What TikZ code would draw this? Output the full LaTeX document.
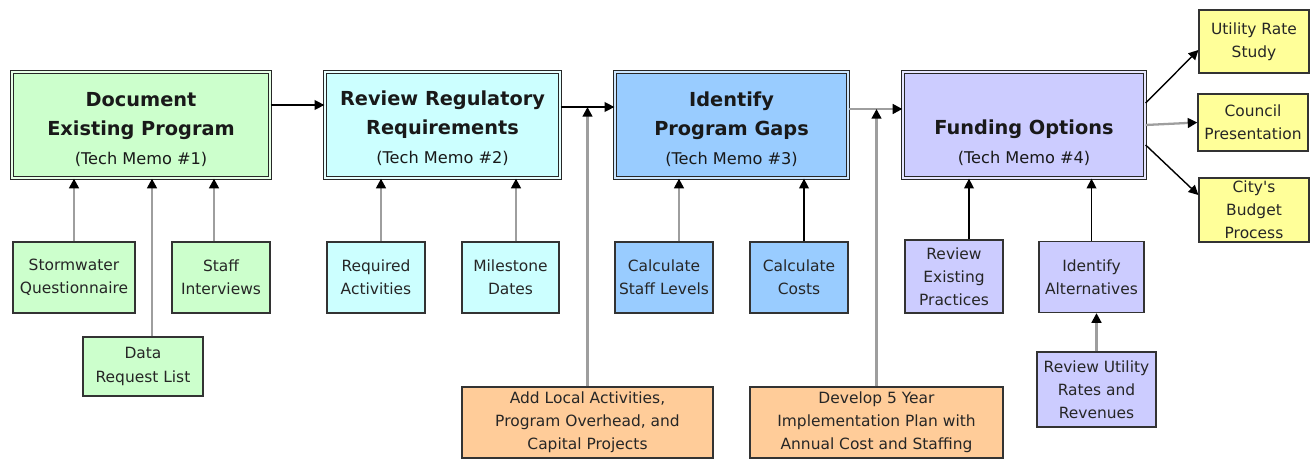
\documentclass[tikz,border=0pt]{standalone}
\usepackage{xcolor}
\usepackage{fontspec}
\setmainfont{DejaVu Sans}
\usepackage{tikz}
\usetikzlibrary{arrows.meta}

\definecolor{memogreen}{HTML}{CCFFCC}
\definecolor{memocyan}{HTML}{CCFFFF}
\definecolor{memoblue}{HTML}{99CCFF}
\definecolor{memolilac}{HTML}{CCCCFF}
\definecolor{steporange}{HTML}{FFCC99}
\definecolor{outyellow}{HTML}{FFFF99}

\newcommand{\memofont}{\fontsize{9.2}{12}\selectfont\mdseries}

\tikzset{
  memo/.style={draw=black!85, line width=0.75pt, double distance=1pt,
    inner sep=0pt, minimum height=2.12cm},
  memotext/.style={align=center, inner sep=0pt, text=black!90,
    font=\fontsize{11}{16.5}\selectfont\bfseries},
  task/.style={draw=black!80, line width=0.7pt, align=center, inner sep=1pt,
    minimum height=1.42cm, text=black!85, font=\fontsize{8.8}{13.2}\selectfont},
  feed/.style={draw=black!38, line width=1.3pt, -{Triangle[length=5.5pt,width=5.5pt,color=black]}},
  flow/.style={draw=black, line width=0.8pt, -{Triangle[length=5.5pt,width=5.5pt,color=black]}},
}

\begin{document}
\begin{tikzpicture}[x=0.02cm, y=-0.02cm]
  \useasboundingbox (0,0) rectangle (1312,465);

  % tech memo boxes
  \node[memo, fill=memogreen, double=memogreen!50, minimum width=5.16cm,
    label={[memotext, yshift=-0.09cm]center:Document\\Existing Program\\{\memofont (Tech Memo \#1)}}]
    (doc) at (141,125) {};
  \node[memo, fill=memocyan, double=memocyan!50, minimum width=4.70cm,
    label={[memotext, yshift=-0.07cm]center:Review Regulatory\\Requirements\\{\memofont (Tech Memo \#2)}}]
    (reg) at (442.5,125) {};
  \node[memo, fill=memoblue, double=memoblue!50, minimum width=4.66cm,
    label={[memotext, yshift=-0.08cm]center:Identify\\Program Gaps\\{\memofont (Tech Memo \#3)}}]
    (gaps) at (731.5,125) {};
  \node[memo, fill=memolilac, double=memolilac!50, minimum width=4.84cm,
    label={[memotext, yshift=-0.36cm]center:Funding Options\\{\memofont (Tech Memo \#4)}}]
    (fund) at (1024,125) {};

  % inputs
  \node[task, fill=memogreen, minimum width=2.44cm] (storm) at (74,277.5) {Stormwater\\Questionnaire};
  \node[task, fill=memogreen, minimum width=1.96cm] (staff) at (221,277.5) {Staff\\Interviews};
  \node[task, fill=memogreen, minimum width=2.40cm, minimum height=1.18cm] (data) at (143,366.5) {Data\\Request List};
  \node[task, fill=memocyan, minimum width=1.96cm] (req) at (376,277.5) {Required\\Activities};
  \node[task, fill=memocyan, minimum width=1.94cm] (mile) at (510.5,277.5) {Milestone\\Dates};
  \node[task, fill=memoblue, minimum width=1.96cm] (cstaff) at (664,277.5) {Calculate\\Staff Levels};
  \node[task, fill=memoblue, minimum width=1.96cm] (ccost) at (799,277.5) {Calculate\\Costs};
  \node[task, fill=memolilac, minimum width=1.96cm, minimum height=1.46cm] (rexist) at (954,276.5) {Review\\Existing\\Practices};
  \node[task, fill=memolilac, minimum width=2.10cm] (ialt) at (1091.5,277) {Identify\\Alternatives};
  \node[task, fill=memolilac, minimum width=2.38cm, minimum height=1.50cm] (rutil) at (1096.5,389.5) {Review Utility\\Rates and\\Revenues};
  \node[task, fill=steporange, minimum width=5.02cm] (local) at (587.5,422.5) {Add Local Activities,\\Program Overhead, and\\Capital Projects};
  \node[task, fill=steporange, minimum width=5.06cm] (plan) at (876.5,422.5) {Develop 5 Year\\Implementation Plan with\\Annual Cost and Staffing};

  % outputs
  \node[task, fill=outyellow, minimum width=2.20cm, minimum height=1.26cm] (urate) at (1254,41.5) {Utility Rate\\Study};
  \node[task, fill=outyellow, minimum width=2.20cm, minimum height=1.14cm] (council) at (1253,122.5) {Council\\Presentation};
  \node[task, fill=outyellow, minimum width=2.20cm, minimum height=1.28cm] (budget) at (1254,210) {City\textquotesingle s\\Budget\\Process};

  % main sequence
  \draw[flow] ([yshift=0.4cm]doc.east) coordinate (dr) -- (dr -| reg.west);
  \draw[flow] ([yshift=0.36cm]reg.east) coordinate (rg) -- (rg -| gaps.west);
  \draw[feed] ([yshift=0.32cm]gaps.east) coordinate (gf) -- (gf -| fund.west);
  \draw[feed] (local.north) -- (local.north |- rg);
  \draw[feed] (plan.north) -- (plan.north |- gf);

  \draw[feed] (storm.north) -- (storm.north |- doc.south);
  \draw[feed] ([xshift=0.18cm]data.north) coordinate (t) -- (t |- doc.south);
  \draw[feed] ([xshift=-0.14cm]staff.north) coordinate (t) -- (t |- doc.south);
  \draw[feed] ([xshift=0.1cm]req.north) coordinate (t) -- (t |- reg.south);
  \draw[feed] ([xshift=0.11cm]mile.north) coordinate (t) -- (t |- reg.south);
  \draw[feed] ([xshift=0.3cm]cstaff.north) coordinate (t) -- (t |- gaps.south);
  \draw[flow] ([xshift=0.1cm]ccost.north) coordinate (t) -- (t |- gaps.south);
  \draw[flow] ([xshift=0.3cm]rexist.north) coordinate (t) -- (t |- fund.south);
  \draw[flow] (ialt.north) -- (ialt.north |- fund.south);
  \draw[feed] (rutil.north) -- (rutil.north |- ialt.south);

  \draw[flow] ([yshift=0.44cm]fund.east) -- ([yshift=-0.17cm]urate.west);
  \draw[feed] (fund.east) -- (council.west);
  \draw[flow] ([yshift=-0.4cm]fund.east) -- ([yshift=0.3cm]budget.west);
\end{tikzpicture}
\end{document}
